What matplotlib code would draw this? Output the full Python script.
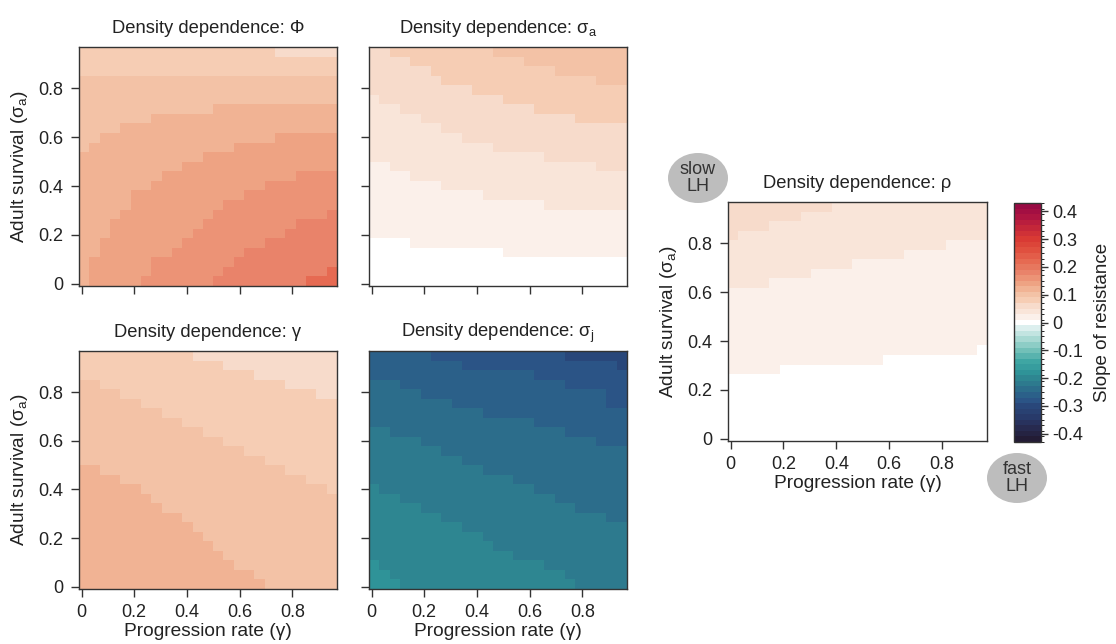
import numpy as np
import matplotlib
matplotlib.use("Agg")
import matplotlib.pyplot as plt
from matplotlib.colors import ListedColormap, BoundaryNorm, to_rgb
from matplotlib.patches import Ellipse
import matplotlib.cm as cm

plt.rcParams['font.family'] = ['Liberation Sans', 'DejaVu Sans']
plt.rcParams['mathtext.fontset'] = 'custom'
plt.rcParams['mathtext.rm'] = 'Liberation Sans'
plt.rcParams['mathtext.it'] = 'Liberation Sans:italic'
plt.rcParams['axes.unicode_minus'] = False

# parameter grid: 25 x 25 cells
gamma = np.linspace(0.01, 0.95, 25)     # progression rate
sigma_a = np.linspace(0.01, 0.95, 25)   # adult survival

# each panel: slope of each band (bottom band first) and, per gamma column,
# the sigma_a row index where the next band starts
phi_levels = [0.22, 0.18, 0.16, 0.14, 0.12, 0.10, 0.08, 0.06]
phi_edges = [
    [0]*22 + [1, 1, 2],
    [0]*13 + [1, 2, 3, 4, 4, 5, 5, 6, 7, 7, 7, 8],
    [0, 0, 0, 0, 0, 0, 1, 3, 3, 4, 5, 6, 7, 8, 9, 9, 10, 10, 11, 11, 11, 12, 12, 12, 12],
    [0, 3, 5, 7, 8, 10, 10, 11, 12, 12, 13, 13, 14, 14, 14, 15, 15, 15, 15, 16, 16, 16, 16, 16, 16],
    [14, 15, 16, 16, 17, 17, 17, 18, 18, 18, 18, 18, 18, 19, 19, 19, 19, 19, 19, 19, 19, 19, 19, 19, 19],
    [22]*25,
    [25]*19 + [24]*6,
]

sa_levels = [0.0, 0.02, 0.04, 0.06, 0.08, 0.10]
sa_edges = [
    [5]*4 + [4]*9 + [3]*12,
    [13, 13, 12, 12, 11, 11, 11, 10, 10, 10, 10, 9, 9, 9, 9, 9, 9, 8, 8, 8, 8, 8, 8, 8, 8],
    [20, 19, 19, 18, 18, 17, 17, 16, 16, 15, 15, 15, 14, 14, 14, 14, 14, 13, 13, 13, 13, 13, 12, 12, 12],
    [25, 25, 24, 24, 23, 23, 22, 21, 21, 21, 20, 20, 20, 19, 19, 19, 18, 18, 18, 18, 17, 17, 17, 17, 17],
    [25]*12 + [24, 24, 24, 23, 23, 23, 22, 22, 22, 22, 21, 21, 21],
]

g_levels = [0.12, 0.10, 0.08, 0.06]
g_edges = [
    [13, 13, 12, 12, 11, 11, 10, 9, 8, 8, 7, 6, 5, 4, 3, 2, 2, 1, 0, 0, 0, 0, 0, 0, 0],
    [22, 22, 21, 21, 20, 20, 19, 19, 18, 18, 17, 17, 16, 16, 15, 15, 14, 14, 13, 13, 12, 12, 11, 11, 10],
    [25]*11 + [24, 24, 24, 23, 23, 23, 22, 22, 22, 21, 21, 21, 20, 20],
]

sj_levels = [-0.18, -0.20, -0.22, -0.24, -0.26, -0.28, -0.30]
sj_edges = [
    [3, 2, 1] + [0]*22,
    [11, 10, 10, 9, 9, 8, 8, 7, 7, 6, 6, 5, 4, 4, 3, 3, 3, 2, 2, 1, 0, 0, 0, 0, 0],
    [17, 17, 16, 16, 16, 15, 15, 14, 14, 13, 13, 12, 12, 12, 11, 11, 10, 10, 9, 9, 8, 8, 8, 7, 7],
    [22, 22, 22, 21, 21, 20, 20, 20, 19, 19, 19, 18, 18, 18, 18, 18, 17, 17, 17, 16, 16, 16, 15, 15, 15],
    [25]*6 + [24, 24, 24] + [23]*7 + [22, 22, 22] + [21]*4 + [19, 19],
    [25]*19 + [24, 24, 24, 24, 24, 23],
]

rho_levels = [0.0, 0.02, 0.04, 0.06]
rho_edges = [
    [7]*5 + [8]*10 + [9]*9 + [10],
    [16, 16, 16, 16, 17, 17, 17, 17, 18, 18, 18, 18, 19, 19, 19, 19, 19, 20, 20, 20, 20, 21, 21, 21, 21],
    [21, 22, 22, 22, 23, 23, 23, 24, 24, 24] + [25]*15,
]

# discrete diverging palette, 0.02 wide classes from -0.43 to 0.43
anchors = [
    (-0.42, '#231c35'), (-0.38, '#272a4f'), (-0.34, '#283a6a'), (-0.30, '#29477a'),
    (-0.28, '#2b5486'), (-0.26, '#2b6089'), (-0.24, '#2c6d8b'), (-0.22, '#2d7a8e'),
    (-0.20, '#2e8691'), (-0.18, '#2f9398'), (-0.14, '#3fa6a3'), (-0.10, '#72c0b8'),
    (-0.06, '#a8d9d3'), (-0.02, '#dcefee'), (0.0, '#ffffff'), (0.02, '#fbf0ea'),
    (0.04, '#f9e5d9'), (0.06, '#f7dbcb'), (0.08, '#f6cdb4'), (0.10, '#f3c2a6'),
    (0.12, '#f1b394'), (0.14, '#eea383'), (0.16, '#ec9376'), (0.18, '#e9836a'),
    (0.20, '#e7775e'), (0.22, '#e66a52'), (0.26, '#e0503f'), (0.30, '#d93a34'),
    (0.34, '#c42739'), (0.38, '#ae1541'), (0.42, '#980a43'),
]
av = [a[0] for a in anchors]
ac = np.array([to_rgb(a[1]) for a in anchors])
centers = np.round(np.arange(-0.42, 0.4201, 0.02), 2)
colors = [tuple(np.interp(v, av, ac[:, i]) for i in range(3)) for v in centers]
cmap = ListedColormap(colors)
norm = BoundaryNorm(np.round(np.arange(-0.43, 0.4301, 0.02), 2), cmap.N)


def band_grid(levels, edges):
    rows = np.arange(len(sigma_a))[:, None]
    k = sum((rows >= np.array(e)[None, :]).astype(int) for e in edges)
    return np.array(levels)[k]


W, H = 1116, 644
fig = plt.figure(figsize=(W / 100, H / 100), dpi=100)
txt = '#222222'


def rect(l, r, t, b):
    return [l / W, 1 - b / H, (r - l) / W, (b - t) / H]


ticks = [0, 0.2, 0.4, 0.6, 0.8]
ticklabels = ['0', '0.2', '0.4', '0.6', '0.8']


def panel(box, levels, edges, title, xlab=True, ylab=True):
    ax = fig.add_axes(rect(*box))
    ax.pcolormesh(gamma, sigma_a, band_grid(levels, edges), cmap=cmap, norm=norm,
                  shading='nearest', antialiased=False, linewidth=0)
    ax.set_xticks(ticks)
    ax.set_yticks(ticks)
    ax.set_xticklabels(ticklabels if xlab else [])
    ax.set_yticklabels(ticklabels if ylab else [])
    ax.tick_params(length=6, width=1, color='#333333', labelsize=13,
                   labelcolor=txt, pad=5)
    for s in ax.spines.values():
        s.set_color('#333333')
        s.set_linewidth(1)
    ax.set_title(title, fontsize=13.2, color=txt, pad=10)
    if xlab:
        ax.set_xlabel('Progression rate (γ)', fontsize=13.8, color=txt, labelpad=1)
    if ylab:
        ax.set_ylabel('Adult survival (σ$_\\mathrm{a}$)', fontsize=13.8, color=txt, labelpad=6)
    return ax


panel((79, 337, 47, 286), phi_levels, phi_edges, 'Density dependence: Φ', xlab=False)
panel((369, 627, 47, 286), sa_levels, sa_edges, 'Density dependence: σ$_\\mathrm{a}$',
      xlab=False, ylab=False)
panel((79, 337, 351, 589), g_levels, g_edges, 'Density dependence: γ')
panel((369, 627, 351, 589), sj_levels, sj_edges, 'Density dependence: σ$_\\mathrm{j}$',
      ylab=False)
panel((728, 987, 202, 441), rho_levels, rho_edges, 'Density dependence: ρ')

# colour key
cax = fig.add_axes(rect(1014, 1041, 203, 442))
cb = fig.colorbar(cm.ScalarMappable(norm=norm, cmap=cmap), cax=cax,
                  ticks=[0.4, 0.3, 0.2, 0.1, 0, -0.1, -0.2, -0.3, -0.4])
cb.ax.set_yticklabels(['0.4', '0.3', '0.2', '0.1', '0', '-0.1', '-0.2', '-0.3', '-0.4'])
cb.ax.tick_params(length=5, width=1, color='#333333', labelsize=13, labelcolor=txt, pad=3)
cb.outline.set_edgecolor('#333333')
cb.outline.set_linewidth(1)
cb.set_label('Slope of resistance', fontsize=13.5, color=txt, labelpad=8)

# life-history badges
for (cx, cy), lab in [((698, 178), 'slow\nLH'), ((1017, 478), 'fast\nLH')]:
    fig.patches.append(Ellipse((cx / W, 1 - cy / H), 60 / W, 50 / H,
                               transform=fig.transFigure, facecolor='#bdbdbd',
                               edgecolor='none'))
    fig.text(cx / W, 1 - cy / H, lab, ha='center', va='center', fontsize=13,
             color='#333333', linespacing=1.05)

fig.savefig('out.png', dpi=100)
